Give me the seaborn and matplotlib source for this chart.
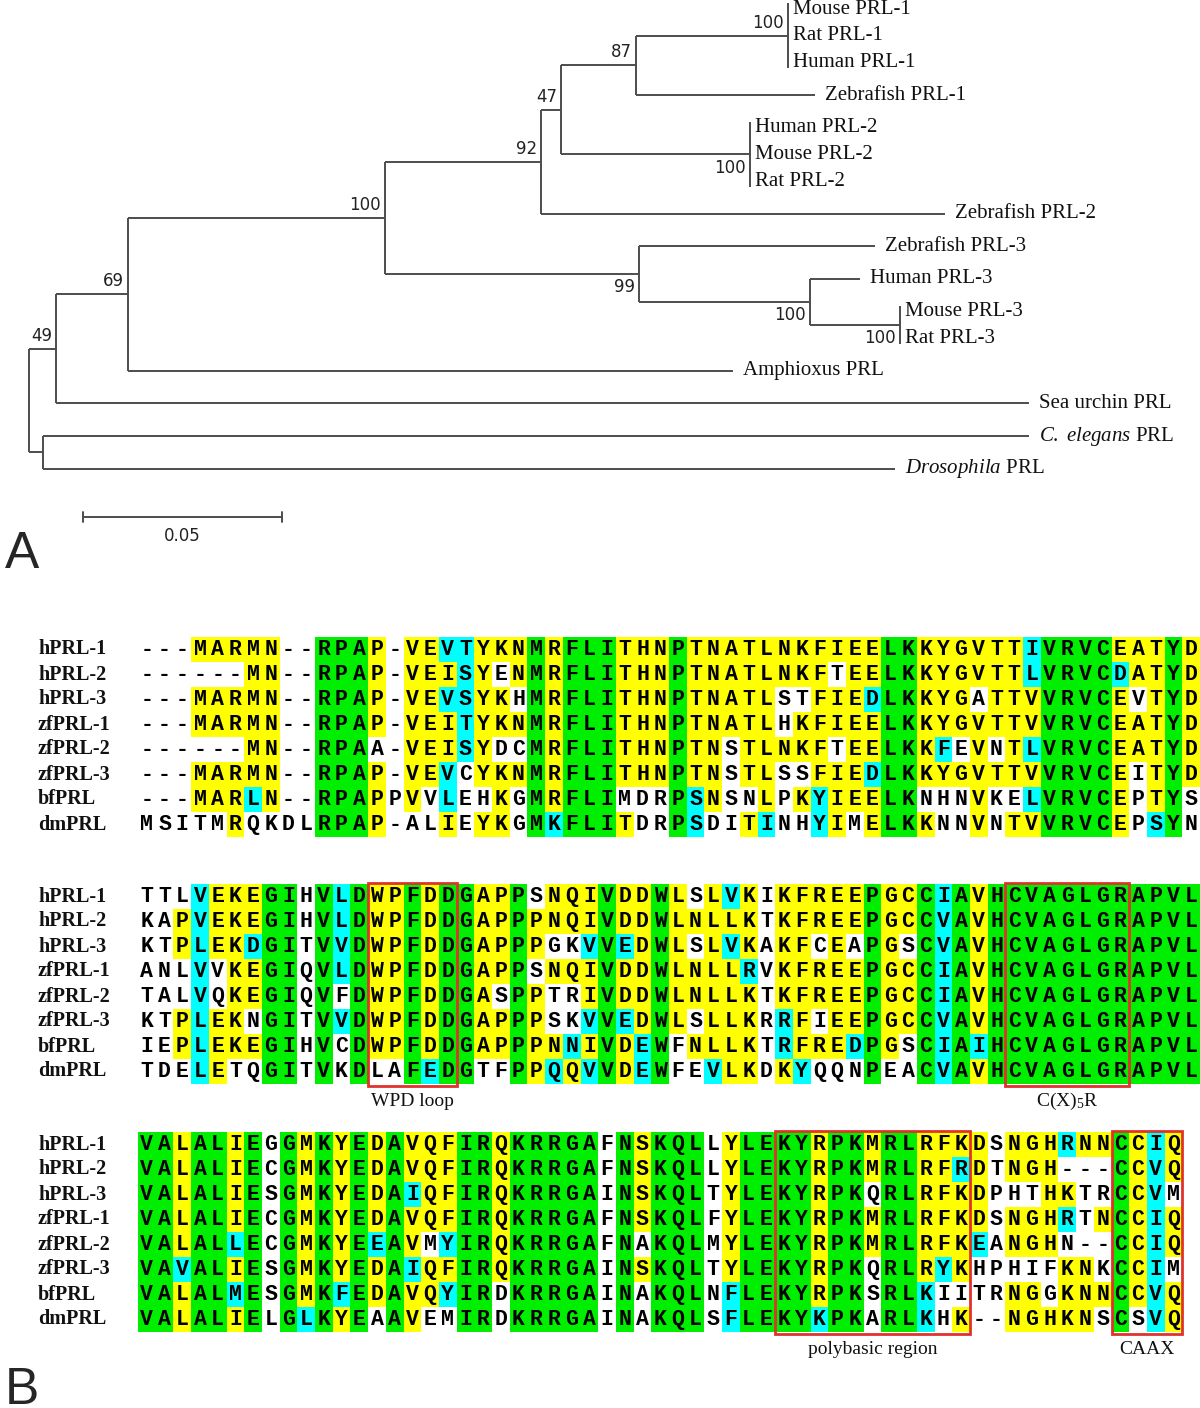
import numpy as np
import pandas as pd
import seaborn as sns
import matplotlib.pyplot as plt
from matplotlib.colors import ListedColormap
from matplotlib.patches import Rectangle

sns.set_theme(style="white")
plt.rcParams['font.family'] = ['DejaVu Sans']
plt.rcParams['mathtext.fontset'] = 'custom'
plt.rcParams['mathtext.rm'] = 'Liberation Serif'
plt.rcParams['mathtext.it'] = 'Liberation Serif:italic'

# ---------------- panel A: neighbour-joining tree ----------------
leaves = ["Mouse PRL-1", "Rat PRL-1", "Human PRL-1", "Zebrafish PRL-1",
          "Human PRL-2", "Mouse PRL-2", "Rat PRL-2", "Zebrafish PRL-2",
          "Zebrafish PRL-3", "Human PRL-3", "Mouse PRL-3", "Rat PRL-3",
          "Amphioxus PRL", "Sea urchin PRL", "C. elegans PRL", "Drosophila PRL"]

leaf_text = {"C. elegans PRL": r"$\it{C.\ elegans}$ PRL",
             "Drosophila PRL": r"$\it{Drosophila}$ PRL"}

children = {
    "root": ["n49", "nCD"],
    "nCD": ["C. elegans PRL", "Drosophila PRL"],
    "n49": ["n69", "Sea urchin PRL"],
    "n69": ["n100a", "Amphioxus PRL"],
    "n100a": ["n92", "n99"],
    "n92": ["n47", "Zebrafish PRL-2"],
    "n47": ["n87", "m2"],
    "n87": ["m1", "Zebrafish PRL-1"],
    "m1": ["Mouse PRL-1", "Rat PRL-1", "Human PRL-1"],
    "m2": ["Human PRL-2", "Mouse PRL-2", "Rat PRL-2"],
    "n99": ["Zebrafish PRL-3", "n100c"],
    "n100c": ["Human PRL-3", "m3"],
    "m3": ["Mouse PRL-3", "Rat PRL-3"],
}

# branch lengths (substitutions per site)
branch_len = {
    "nCD": 0.0035, "C. elegans PRL": 0.2477, "Drosophila PRL": 0.2141,
    "n49": 0.0068, "Sea urchin PRL": 0.2445,
    "n69": 0.0181, "Amphioxus PRL": 0.152,
    "n100a": 0.0646, "n92": 0.0392, "Zebrafish PRL-2": 0.1015,
    "n47": 0.005, "n87": 0.0188, "m1": 0.0382, "Zebrafish PRL-1": 0.045,
    "m2": 0.0475, "n99": 0.0638, "Zebrafish PRL-3": 0.0593,
    "n100c": 0.043, "Human PRL-3": 0.0126, "m3": 0.0226,
}

support = {"n49": 49, "n69": 69, "n100a": 100, "n92": 92, "n47": 47,
           "n87": 87, "m1": 100, "m2": 100, "n99": 99, "n100c": 100, "m3": 100}
support_below = ["m2", "n99", "n100c", "m3"]

# ---------------- panel B: alignment ----------------
names = ["hPRL-1", "hPRL-2", "hPRL-3", "zfPRL-1", "zfPRL-2", "zfPRL-3", "bfPRL", "dmPRL"]

seq1 = ["---MARMN--RPAP-VEVTYKNMRFLITHNPTNATLNKFIEELKKYGVTTIVRVCEATYD",
        "------MN--RPAP-VEISYENMRFLITHNPTNATLNKFTEELKKYGVTTLVRVCDATYD",
        "---MARMN--RPAP-VEVSYKHMRFLITHNPTNATLSTFIEDLKKYGATTVVRVCEVTYD",
        "---MARMN--RPAP-VEITYKNMRFLITHNPTNATLHKFIEELKKYGVTTVVRVCEATYD",
        "------MN--RPAA-VEISYDCMRFLITHNPTNSTLNKFTEELKKFEVNTLVRVCEATYD",
        "---MARMN--RPAP-VEVCYKNMRFLITHNPTNSTLSSFIEDLKKYGVTTVVRVCEITYD",
        "---MARLN--RPAPPVVLEHKGMRFLIMDRPSNSNLPKYIEELKNHNVKELVRVCEPTYS",
        "MSITMRQKDLRPAP-ALIEYKGMKFLITDRPSDITINHYIMELKKNNVNTVVRVCEPSYN"]

seq2 = ["TTLVEKEGIHVLDWPFDDGAPPSNQIVDDWLSLVKIKFREEPGCCIAVHCVAGLGRAPVL",
        "KAPVEKEGIHVLDWPFDDGAPPPNQIVDDWLNLLKTKFREEPGCCVAVHCVAGLGRAPVL",
        "KTPLEKDGITVVDWPFDDGAPPPGKVVEDWLSLVKAKFCEAPGSCVAVHCVAGLGRAPVL",
        "ANLVVKEGIQVLDWPFDDGAPPSNQIVDDWLNLLRVKFREEPGCCIAVHCVAGLGRAPVL",
        "TALVQKEGIQVFDWPFDDGASPPTRIVDDWLNLLKTKFREEPGCCIAVHCVAGLGRAPVL",
        "KTPLEKNGITVVDWPFDDGAPPPSKVVEDWLSLLKRRFIEEPGCCVAVHCVAGLGRAPVL",
        "IEPLEKEGIHVCDWPFDDGAPPPNNIVDEWFNLLKTRFREDPGSCIAIHCVAGLGRAPVL",
        "TDELETQGITVKDLAFEDGTFPPQQVVDEWFEVLKDKYQQNPEACVAVHCVAGLGRAPVL"]

seq3 = ["VALALIEGGMKYEDAVQFIRQKRRGAFNSKQLLYLEKYRPKMRLRFKDSNGHRNNCCIQ",
        "VALALIECGMKYEDAVQFIRQKRRGAFNSKQLLYLEKYRPKMRLRFRDTNGH---CCVQ",
        "VALALIESGMKYEDAIQFIRQKRRGAINSKQLTYLEKYRPKQRLRFKDPHTHKTRCCVM",
        "VALALIECGMKYEDAVQFIRQKRRGAFNSKQLFYLEKYRPKMRLRFKDSNGHRTNCCIQ",
        "VALALLECGMKYEEAVMYIRQKRRGAFNAKQLMYLEKYRPKMRLRFKEANGHN--CCIQ",
        "VAVALIESGMKYEDAIQFIRQKRRGAINSKQLTYLEKYRPKQRLRYKHPHIFKNKCCIM",
        "VALALMESGMKFEDAVQYIRDKRRGAINAKQLNFLEKYRPKSRLKIITRNGGKNNCCVQ",
        "VALALIELGLKYEAAVEMIRDKRRGAINAKQLSFLEKYKPKARLKHK--NGHKNSCSVQ"]

# shading: w = none, y = majority, c = similar, g = identical
shade1 = ["www yyyyy ww ggg y w yy cc yyy g y ggg yyy g yyyyyyyyyyy gg yyyyyy c gggg yyy g y",
          "wwwwww yy ww ggg y w yyy c y w y g y ggg yyy g yyyyyyyy w yy gg yyyyyy c gggg c yy g y",
          "www yyyyy ww ggg y w yy cc yy w g y ggg yyy g yyyyy ww yyy c gg yyy w yyy gggg y w y g y",
          "www yyyyy ww ggg y w yyy c yyy g y ggg yyy g yyyyy w yyyyy gg yyyyyyy gggg yyy g y",
          "wwwwww yy ww ggg ww yyy c y ww g y ggg yyy g yy w yyyyy w yy gg y c w y w y c gggg yyy g y",
          "www yyyyy ww ggg y w yy c w yyy g y ggg yyy g yy w yy ww yyy c gg yyyyyyy gggg y w y g y",
          "www yyy c y ww ggg y w y w c ww y w g y ggg www g c y ww y w y c yyy gg www y ww c gggg y w y g w",
          "wwwww y wwww ggg y www y w yy w g c ggg y ww g c ww y c ww c y w y gg y ww y w yy gggg y w c g w"]

shade2 = ["www c yyy gg w g c g yy g y gg yy g w yyy g yy g y w y c y w yyyyy g yy g c g y gggggggggggg",
          "ww y c yyy gg w g c g yy g y gg yy g yyyy g yy g yyyyy w yyyyy g yy g c g y gggggggggggg",
          "ww y c yy c gg w g c g yy g y gg yy g y ww c g c y g y w y c y w yy w y w g y w g c g y gggggggggggg",
          "www c w yy gg w g c g yy g y gg yy g w yyy g yy g yyyy c w yyyyy g yy g c g y gggggggggggg",
          "www c w yy gg w g w g yy g y gg y w g y ww y g yy g yyyyy w yyyyy g yy g c g y gggggggggggg",
          "ww y c yy w gg w g c g yy g y gg yy g y ww c g c y g y w yyy w c y w yy g yy g c g y gggggggggggg",
          "ww y c yyy gg w g w g yy g y gg yy g yy c y g y c g w yyyy w c yyy c g y w g c g c gggggggggggg",
          "www c y ww gg w g w g ww g c gg ww g y c y c g y c g ww c yy w y c www g ww g c g y gggggggggggg"]

shade3 = ["gg y gg y g w g y g y g y g yyy gg y ggggg w g y ggg w y gggg y gg y gg yyyy w yyy c yy g y c y",
          "gg y gg y g w g y g y g y g yyy gg y ggggg w g y ggg w y gggg y gg y gg yy c y w yyy www g y c y",
          "gg y gg y g w g y g y g y g c yy gg y ggggg w g y ggg w y gggg y gg w gg yyyy www yy ww g y c w",
          "gg y gg y g w g y g y g y g yyy gg y ggggg w g y ggg w y gggg y gg y gg yyyy w yyy c w y g y c y",
          "gg y gg c g w g y g y g c g y w c gg y ggggg w g w ggg w y gggg y gg y gg yyy c w yyy www g y c y",
          "gg c gg y g w g y g y g y g c yy gg y ggggg w g y ggg w y gggg y gg w gg y c y wwwww yy w g y c w",
          "gg y gg c g w g y g c g y g yy c gg w ggggg w g w ggg w c gggg y gg w gg c wwww yy w yyy g y c y",
          "gg y gg y g w g c g y g w g y ww gg w ggggg w g w ggg w c gggg c gg w gg c w y ww yyyyy w g w c y"]

motifs = [(1, 13, 17, "WPD loop"), (1, 49, 55, r"C(X)$_5$R"),
          (2, 36, 46, "polybasic region"), (2, 55, 58, "CAAX")]

# ---------------- figure ----------------
W, H = 1200, 1408
fig = plt.figure(figsize=(W / 100, H / 100), dpi=100)

# tree coordinates
xpos = {"root": 0.0}


def place(node):
    for ch in children.get(node, []):
        xpos[ch] = xpos[node] + branch_len.get(ch, 0.0)
        place(ch)


place("root")
parent = {c: p for p, cs in children.items() for c in cs}
ypos = {}
r = 0.0
for i, nm in enumerate(leaves):
    if i > 0:
        prev = leaves[i - 1]
        tight = (parent[prev] == parent[nm] and branch_len.get(nm, 0) == 0
                 and branch_len.get(prev, 0) == 0)
        r += 0.82 if tight else 1.0
    ypos[nm] = r


def ycalc(node):
    if node in children:
        ys = [ycalc(c) for c in children[node]]
        ypos[node] = (ys[0] + ys[-1]) / 2
    return ypos[node]


ycalc("root")

px_unit, row_px, x0_px, y0_px, tree_h = 3980.0, 32.6, 29, 9, 580
axt = fig.add_axes([0, 1 - tree_h / H, 1, tree_h / H])
axt.set_xlim(-x0_px / px_unit, (W - x0_px) / px_unit)
axt.set_ylim((tree_h - y0_px) / row_px, -y0_px / row_px)
axt.axis('off')
lc = '#4d4d4d'
for node, chs in children.items():
    ys = [ypos[c] for c in chs]
    zero = all(branch_len.get(c, 0) == 0 for c in chs)
    ext = 0.17 if zero else 0.0
    axt.plot([xpos[node]] * 2, [min(ys) - ext, max(ys) + ext], color=lc, lw=1.4,
             solid_capstyle='butt')
    for c in chs:
        if branch_len.get(c, 0) > 0:
            axt.plot([xpos[node], xpos[c]], [ypos[c]] * 2, color=lc, lw=1.4,
                     solid_capstyle='butt')

for nm in leaves:
    gap = 10 if branch_len.get(nm, 0) > 0 else 5
    axt.text(xpos[nm] + gap / px_unit, ypos[nm], leaf_text.get(nm, nm), va='center',
             ha='left', fontsize=15, fontfamily='Liberation Serif', color='#111')

for node, val in support.items():
    below = node in support_below
    axt.annotate(str(val), (xpos[node], ypos[node]), xytext=(-3, -3 if below else 3),
                 textcoords='offset points', ha='right',
                 va='top' if below else 'bottom', fontsize=12, color='#222')

# scale bar
sb_x = (83 - x0_px) / px_unit
sb_y = (517 - y0_px) / row_px
axt.plot([sb_x, sb_x + 0.05], [sb_y, sb_y], color=lc, lw=1.4)
for xx in (sb_x, sb_x + 0.05):
    axt.plot([xx, xx], [sb_y - 0.15, sb_y + 0.15], color=lc, lw=1.4)
axt.text(sb_x + 0.025, sb_y + 0.3, "0.05", ha='center', va='top', fontsize=12, color='#222')

# alignment blocks
cmap = ListedColormap(["#ffffff", "#ffff00", "#00ffff", "#00ee00"])
code = {"w": 0, "y": 1, "c": 2, "g": 3}
blocks = [(seq1, shade1), (seq2, shade2), (seq3, shade3)]
block_top = [637, 884, 1132]
left_px, cell_w, row_h = 138, 17.7, 25

axes_b = []
for k, (seqs, shades) in enumerate(blocks):
    ncol = len(seqs[0])
    grid = np.array([[code[ch] for ch in s.replace(" ", "")] for s in shades])
    assert grid.shape == (8, ncol), (k, grid.shape)
    letters = np.array([list(s) for s in seqs])
    df = pd.DataFrame(grid, index=names)
    ax = fig.add_axes([left_px / W, 1 - (block_top[k] + 8 * row_h) / H,
                       ncol * cell_w / W, 8 * row_h / H])
    sns.heatmap(df, ax=ax, cmap=cmap, vmin=-0.5, vmax=3.5, cbar=False,
                annot=letters, fmt='', xticklabels=False, yticklabels=names,
                annot_kws=dict(fontsize=15.5, fontweight='bold',
                               fontfamily='Liberation Mono', color='black'))
    ax.set_yticklabels(names, rotation=0, ha='left', fontsize=14.5, fontweight='bold',
                       fontfamily='Liberation Serif', color='#111')
    ax.tick_params(axis='y', length=0, pad=(left_px - 38) * 0.72)
    axes_b.append(ax)

for k, c0, c1, label in motifs:
    ax = axes_b[k]
    ax.add_patch(Rectangle((c0, -0.06), c1 - c0 + 1, 8.12, fill=False,
                           edgecolor='#e0322c', lw=2, clip_on=False, zorder=5))
    ax.text((c0 + c1 + 1) / 2, 8.68, label, ha='center', va='center', fontsize=14,
            fontfamily='Liberation Serif', color='#111')

fig.text(5 / W, 1 - 555 / H, "A", fontsize=37, fontfamily='Liberation Sans',
         ha='left', va='center')
fig.text(5 / W, 1 - 1390 / H, "B", fontsize=37, fontfamily='Liberation Sans',
         ha='left', va='center')

fig.savefig("out.png", dpi=100, facecolor='white')
